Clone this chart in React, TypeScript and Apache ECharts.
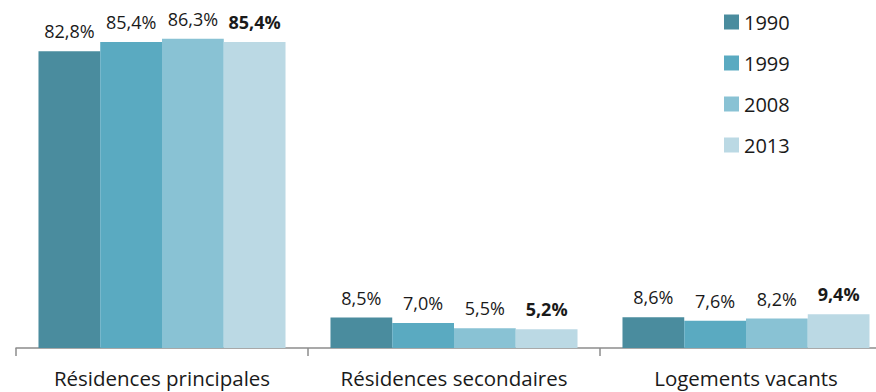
import React, { useEffect, useRef } from "react";
import * as echarts from "echarts";

const categories = ["Résidences principales", "Résidences secondaires", "Logements vacants"];
const years = ["1990", "1999", "2008", "2013"];
const v1990 = [82.8, 8.5, 8.6];
const v1999 = [85.4, 7.0, 7.6];
const v2008 = [86.3, 5.5, 8.2];
const v2013 = [85.4, 5.2, 9.4];
const colors = ["#4a8c9e", "#5aaac1", "#89c2d4", "#bbd9e4"];

const FONT = "'Open Sans', Lato, sans-serif";

export default function App() {
  const ref = useRef<HTMLDivElement>(null);
  useEffect(() => {
    if (!ref.current) return;
    const chart = echarts.init(ref.current, null, { renderer: "svg" });
    const all = [v1990, v1999, v2008, v2013];
    const fmt = (p: any) => p.value.toFixed(1).replace(".", ",") + "%";
    chart.setOption({
      animation: false,
      textStyle: { fontFamily: FONT },
      grid: { left: 16, top: 25.5, width: 876, bottom: 44, containLabel: false },
      legend: {
        orient: "vertical",
        left: 719,
        top: 7,
        itemWidth: 15,
        itemHeight: 15,
        itemGap: 21,
        icon: "rect",
        data: years,
        textStyle: { fontFamily: FONT, fontSize: 20, lineHeight: 20, color: "#1a1a1a" },
      },
      xAxis: {
        type: "category",
        data: categories,
        axisLine: { lineStyle: { color: "#8c8c8c", width: 1.5 } },
        axisTick: { show: true, length: 8, lineStyle: { color: "#8c8c8c", width: 1.5 } },
        axisLabel: {
          interval: 0,
          fontFamily: FONT,
          fontSize: 20.5,
          lineHeight: 20,
          color: "#1a1a1a",
          margin: 20,
        },
      },
      yAxis: {
        type: "value",
        min: 0,
        max: 90,
        show: false,
        splitLine: { show: false },
      },
      series: years.map((y, i) => ({
        name: y,
        type: "bar",
        data: all[i],
        barGap: "0%",
        barCategoryGap: "15.4%",
        itemStyle: { color: colors[i] },
        label: {
          show: true,
          position: "top",
          distance: 11,
          formatter: fmt,
          fontFamily: FONT,
          fontSize: 18,
          color: "#1a1a1a",
          fontWeight: i === 3 ? "bold" : "normal",
        },
      })),
    });
    return () => chart.dispose();
  }, []);
  return (
    <div style={{ position: "absolute", left: 0, top: 0, width: 876, height: 392, overflow: "hidden", background: "#fff" }}>
      <div ref={ref} style={{ width: 910, height: 392 }} />
    </div>
  );
}
